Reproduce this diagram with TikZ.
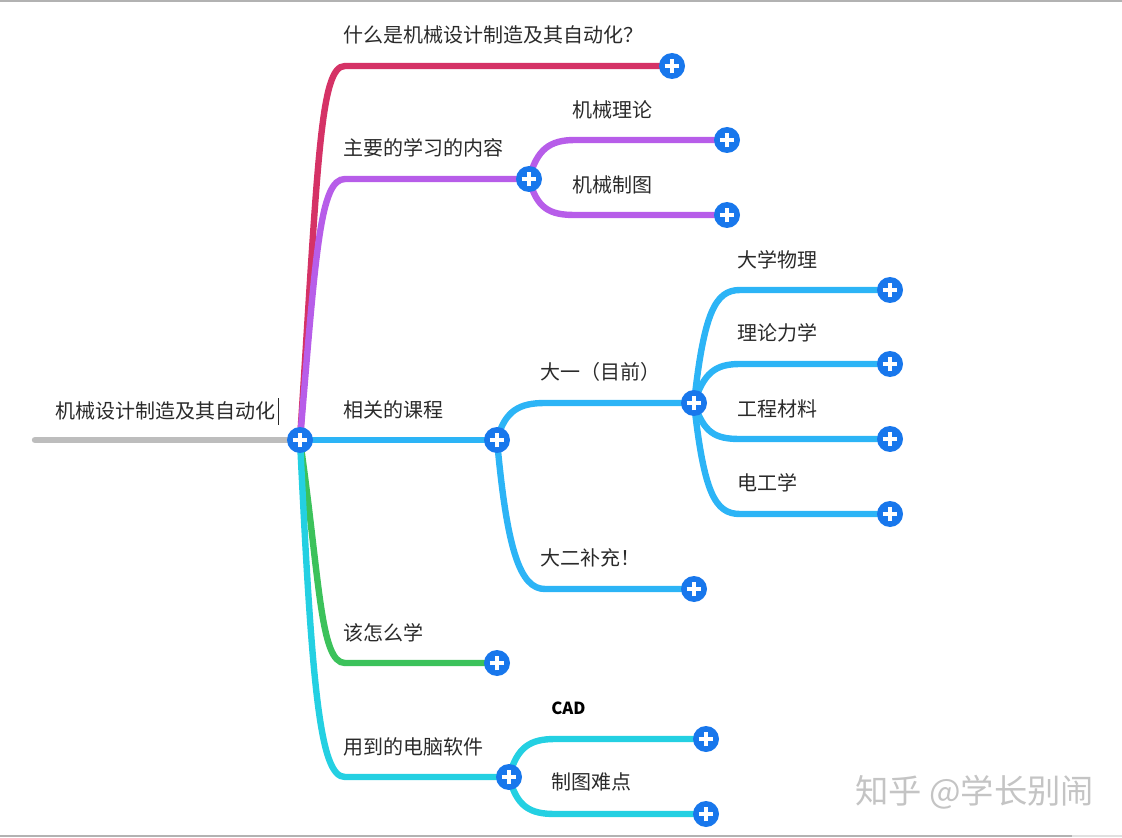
\documentclass[tikz,border=0pt]{standalone}
\usepackage{fontspec}
\setmainfont{Noto Sans CJK SC}
\usetikzlibrary{backgrounds}
\definecolor{plusblue}{HTML}{1877EC}
\definecolor{brcrimson}{HTML}{D53266}
\definecolor{brpurple}{HTML}{B75DE9}
\definecolor{brblue}{HTML}{2CB4F6}
\definecolor{brgreen}{HTML}{3CC25B}
\definecolor{brcyan}{HTML}{24D0E2}
\definecolor{rootgray}{HTML}{BDBDBD}
\definecolor{txtgray}{HTML}{2A2A2A}
\definecolor{framegray}{HTML}{B2B2B2}
\definecolor{wmgray}{HTML}{C4C4C4}

\begin{document}
\begin{tikzpicture}[x=0.75pt, y=-0.75pt,
	plus/.style = {circle, fill=plusblue, minimum size=19.5pt, inner sep=0pt,
		path picture={\draw[white, line width=2.6pt]
			([xshift=-5.6pt]path picture bounding box.center) -- ([xshift=5.6pt]path picture bounding box.center)
			([yshift=-5.6pt]path picture bounding box.center) -- ([yshift=5.6pt]path picture bounding box.center);}},
	txt/.style = {anchor=west, inner sep=0pt, text=txtgray, font=\fontsize{15}{18}\selectfont},
	branch/.style = {line width=4.8pt, line cap=round}]
	\useasboundingbox (0,0) rectangle (1122,838);
	\draw[framegray, line width=2pt] (0,1) -- (1122,1);
	\draw[framegray, line width=1.5pt] (0,836) -- (1072,836);
	\draw[framegray!40, line width=1.5pt] (1072,836) -- (1122,836);
%
	\node[txt] (roottxt) at (55,411) {机械设计制造及其自动化};
	\draw[txtgray, line width=0.4pt] ([xshift=2pt]roottxt.east) ++(0,-13) -- ++(0,27);
	\node[plus] (root) at (300,440) {};
	\coordinate (tail) at (35,440);
%
	\node[txt] at (343,35) {什么是机械设计制造及其自动化？};
	\node[plus] (what) at (672,66) {};
	\coordinate (what-in) at (345,66);
%
	\node[txt] at (343,148) {主要的学习的内容};
	\node[plus] (content) at (529,179) {};
	\coordinate (content-in) at (345,179);
		\node[txt] at (572,110) {机械理论};
		\node[plus] (theory) at (727,140) {};
		\coordinate (theory-in) at (575,140);
		\node[txt] at (572,185) {机械制图};
		\node[plus] (drawing) at (727,215) {};
		\coordinate (drawing-in) at (575,215);
%
	\node[txt] at (343,410) {相关的课程};
	\node[plus] (courses) at (497,440) {};
		\node[txt] at (540,372) {大一（目前）};
		\node[plus] (year1) at (694,403) {};
		\coordinate (year1-in) at (545,403);
			\node[txt] at (737,260) {大学物理};
			\node[plus] (physics) at (890,290) {};
			\coordinate (physics-in) at (740,290);
			\node[txt] at (737,333) {理论力学};
			\node[plus] (mechanics) at (890,364) {};
			\coordinate (mechanics-in) at (740,364);
			\node[txt] at (737,409) {工程材料};
			\node[plus] (materials) at (890,439) {};
			\coordinate (materials-in) at (740,439);
			\node[txt] at (737,483) {电工学};
			\node[plus] (electric) at (890,514) {};
			\coordinate (electric-in) at (740,514);
		\node[txt] at (540,558) {大二补充！};
		\node[plus] (year2) at (694,589) {};
		\coordinate (year2-in) at (545,589);
%
	\node[txt] at (343,633) {该怎么学};
	\node[plus] (howto) at (497,663) {};
	\coordinate (howto-in) at (345,663);
%
	\node[txt] at (343,747) {用到的电脑软件};
	\node[plus] (software) at (509,777) {};
	\coordinate (software-in) at (345,777);
		\node[txt, font=\fontsize{12.5}{15}\selectfont\bfseries, text=black] at (551,708) {CAD};
		\node[plus] (cad) at (706,739) {};
		\coordinate (cad-in) at (555,739);
		\node[txt] at (551,782) {制图难点};
		\node[plus] (hard) at (706,814) {};
		\coordinate (hard-in) at (555,814);
%
	\node[anchor=west, inner sep=0pt, text=wmgray, font=\fontsize{25}{30}\selectfont] (mark) at (855,792) {知乎 @学长别闹};
%
	\begin{pgfonlayer}{background}
	\draw[branch, brcrimson] (root.center) .. controls +(18,-280) and +(-25,0) .. (what-in) -- (what.center);
	\draw[branch, brpurple] (root.center) .. controls +(16,-190) and +(-25,0) .. (content-in) -- (content.center);
	\draw[branch, brpurple] (content.center) .. controls +(8,-30) and +(-25,0) .. (theory-in) -- (theory.center);
	\draw[branch, brpurple] (content.center) .. controls +(8,30) and +(-25,0) .. (drawing-in) -- (drawing.center);
	\draw[branch, brgreen] (root.center) .. controls +(20,140) and +(-25,0) .. (howto-in) -- (howto.center);
	\draw[branch, brcyan] (root.center) .. controls +(12,250) and +(-25,0) .. (software-in) -- (software.center);
	\draw[branch, brcyan] (software.center) .. controls +(8,-30) and +(-25,0) .. (cad-in) -- (cad.center);
	\draw[branch, brcyan] (software.center) .. controls +(8,30) and +(-25,0) .. (hard-in) -- (hard.center);
	\draw[branch, brblue] (root.center) -- (courses.center);
	\draw[branch, brblue] (courses.center) .. controls +(8,-30) and +(-25,0) .. (year1-in) -- (year1.center);
	\draw[branch, brblue] (courses.center) .. controls +(10,110) and +(-25,0) .. (year2-in) -- (year2.center);
	\draw[branch, brblue] (year1.center) .. controls +(10,-90) and +(-25,0) .. (physics-in) -- (physics.center);
	\draw[branch, brblue] (year1.center) .. controls +(10,-30) and +(-25,0) .. (mechanics-in) -- (mechanics.center);
	\draw[branch, brblue] (year1.center) .. controls +(10,30) and +(-25,0) .. (materials-in) -- (materials.center);
	\draw[branch, brblue] (year1.center) .. controls +(10,90) and +(-25,0) .. (electric-in) -- (electric.center);
	\draw[branch, rootgray] (tail) -- (root.center);
	\end{pgfonlayer}
\end{tikzpicture}
\end{document}
